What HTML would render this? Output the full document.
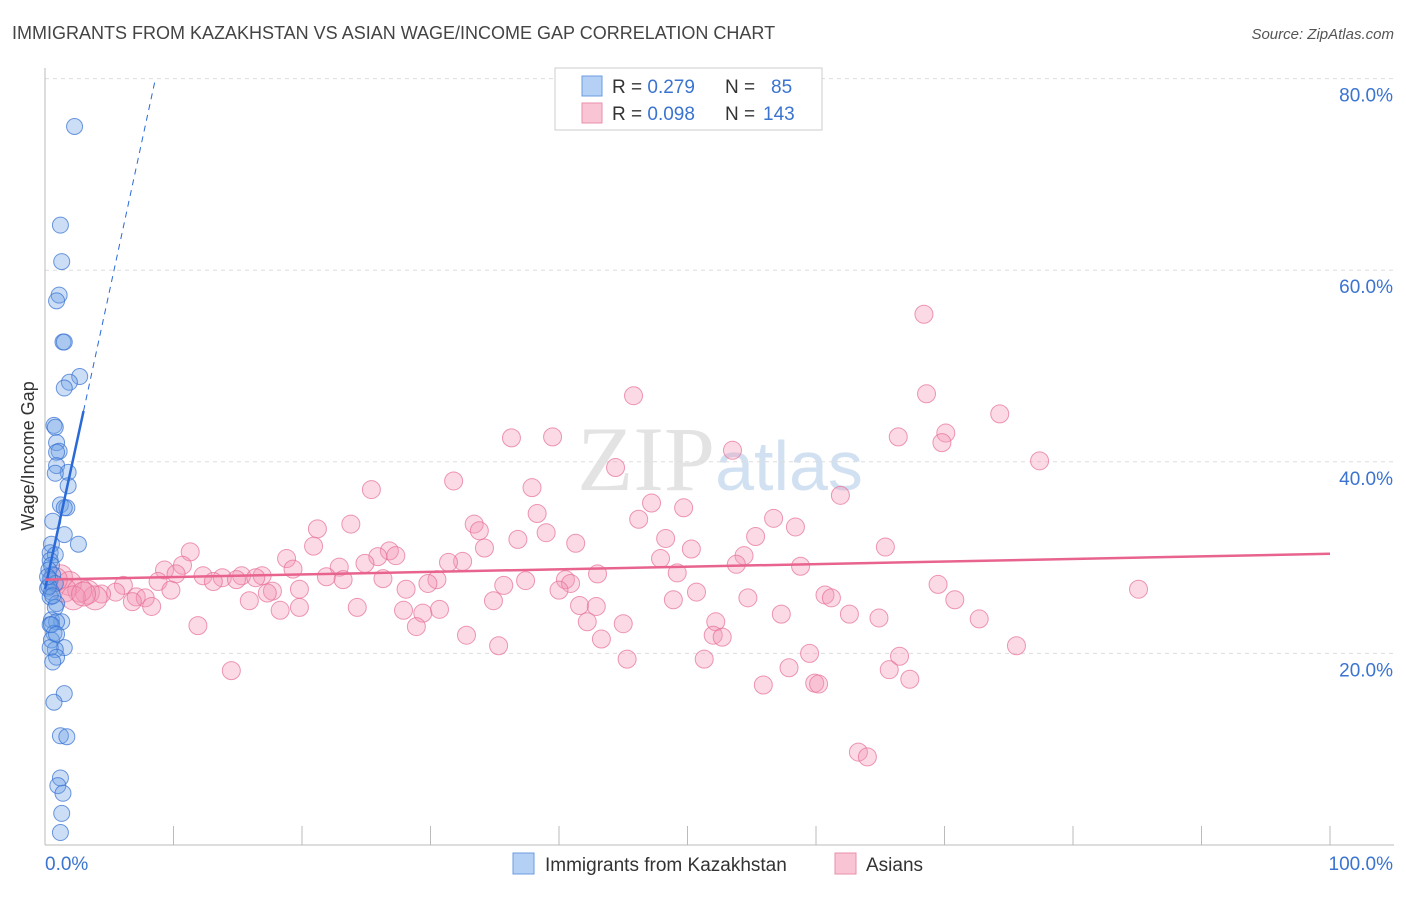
<!DOCTYPE html>
<html><head><meta charset="utf-8"><style>
body{margin:0;background:#fff;font-family:"Liberation Sans",sans-serif}
</style></head><body>
<svg id="chart" width="1406" height="892" xmlns="http://www.w3.org/2000/svg" font-family="Liberation Sans, sans-serif">
<text x="12" y="39" font-size="18" fill="#444">IMMIGRANTS FROM KAZAKHSTAN VS ASIAN WAGE/INCOME GAP CORRELATION CHART</text>
<text x="1394" y="39" font-size="15" fill="#555" text-anchor="end" font-style="italic">Source: ZipAtlas.com</text>
<text x="720" y="490" font-size="92" text-anchor="middle" fill="#ddd" font-family="Liberation Serif, serif" opacity="0.8">ZIP<tspan fill="#c8daf0" font-family="Liberation Sans, sans-serif" font-size="70">atlas</tspan></text>
<text transform="translate(34,456) rotate(-90)" font-size="18" fill="#333" text-anchor="middle">Wage/Income Gap</text>
<g id="grid"></g><g id="axes"></g><g id="marks"></g>
<g>
<rect x="555" y="68" width="267" height="62" fill="#fff" stroke="#ccc"/>
<rect x="582" y="76" width="20" height="20" fill="#b5d0f5" stroke="#6a9be0"/>
<rect x="582" y="103" width="20" height="20" fill="#f9c4d4" stroke="#ea8fab"/>
<text x="612" y="93" font-size="19" fill="#333">R = <tspan fill="#3a74d0">0.279</tspan><tspan x="725">N = </tspan><tspan x="771" fill="#3a74d0">85</tspan></text>
<text x="612" y="120" font-size="19" fill="#333">R = <tspan fill="#3a74d0">0.098</tspan><tspan x="725">N = </tspan><tspan x="763" fill="#3a74d0">143</tspan></text>
</g>
<g>
<rect x="513" y="853" width="21" height="21" fill="#b5d0f5" stroke="#6a9be0"/>
<text x="545" y="871" font-size="19" fill="#333">Immigrants from Kazakhstan</text>
<rect x="835" y="853" width="21" height="21" fill="#f9c4d4" stroke="#ea8fab"/>
<text x="866" y="871" font-size="19" fill="#333">Asians</text>
</g>
</svg>
<script>
const yTicks=[20,40,60,80];
const xTickLabels=["0.0%","100.0%"];
const blueX=[2.3,1.2,1.3,1.1,0.9,1.4,1.5,2.7,1.9,1.5,0.7,0.8,0.9,1.1,0.9,0.9,1.8,0.8,1.8,1.2,1.7,1.5,0.6,1.5,2.6,0.5,0.4,0.8,0.4,0.5,0.3,0.6,0.4,0.8,0.2,0.5,0.4,0.9,0.8,0.5,1.3,0.9,0.4,0.7,0.5,1.5,0.8,0.4,0.9,0.6,1.5,0.7,1.2,1.7,1.2,1.0,1.4,1.3,1.2,0.3,0.6,0.2,0.5,0.9];
const blueY=[75.0,64.7,60.9,57.4,56.8,52.5,52.5,48.9,48.3,47.7,43.8,43.6,42.0,41.1,41.0,39.6,38.9,38.8,37.5,35.5,35.2,35.2,33.8,32.4,31.4,31.4,30.5,30.3,29.7,29.2,28.7,28.2,27.7,27.3,26.8,26.4,25.9,25.2,24.8,23.5,23.3,23.3,23.0,22.1,21.4,20.6,20.4,20.6,19.6,19.1,15.8,14.9,11.4,11.3,7.0,6.2,5.4,3.3,1.3,27.0,26.0,28.0,23.0,22.0];
const pinkX=[68.4,45.8,68.6,74.3,36.3,39.5,53.5,66.4,70.1,69.8,77.4,44.4,31.8,37.9,25.4,61.9,47.2,49.7,38.3,46.2,56.7,33.4,23.8,21.2,33.8,58.4,39,36.8,41.3,55.3,48.3,20.9,34.2,50.3,65.4,11.3,26.8,27.3,25.9,54.4,47.9,18.8,32.5,31.4,24.9,10.7,22.9,9.3,19.3,53.8,58.8,10.2,43.0,49.2,12.3,15.3,16.9,13.8,16.4,21.9,26.3,30.5,23.2,13.1,14.9,8.8,40.5,40.9,37.4,29.8,69.5,85.1,35.7,28.1,6.1,9.8,17.7,17.3,19.8,40.0,50.7,5.5,4.4,3.3,3.9,7.1,7.8,60.7,61.2,54.7,70.8,48.9,34.9,15.9,6.8,8.3,41.6,42.9,24.3,19.8,30.7,27.9,29.4,18.3,57.3,62.6,64.9,72.7,42.2,52.2,45.0,11.9,28.9,52,52.7,32.8,43.3,35.3,75.6,59.5,66.5,45.3,51.3,57.9,65.7,14.5,67.3,59.9,60.2,55.9,63.3,64,1.2,1.9,2.7,1.5,0.8,2.2,3.0];
const pinkY=[55.4,46.9,47.1,45.0,42.5,42.6,41.2,42.6,43.0,42.0,40.1,39.4,38.0,37.3,37.1,36.5,35.7,35.2,34.6,34.0,34.1,33.5,33.5,33.0,32.8,33.2,32.6,31.9,31.5,32.2,32.0,31.2,31.0,30.9,31.1,30.6,30.7,30.2,30.1,30.2,29.9,29.9,29.6,29.5,29.4,29.2,29.0,28.7,28.8,29.3,29.1,28.3,28.3,28.4,28.1,28.1,28.1,27.9,27.9,28.0,27.8,27.7,27.7,27.5,27.7,27.5,27.7,27.3,27.6,27.3,27.2,26.7,27.1,26.7,27.1,26.6,26.5,26.3,26.7,26.6,26.4,26.4,26.2,26.4,25.8,25.9,25.8,26.1,25.8,25.8,25.6,25.6,25.5,25.5,25.4,24.9,25.0,24.9,24.8,24.8,24.6,24.5,24.2,24.5,24.1,24.1,23.7,23.6,23.3,23.3,23.1,22.9,22.8,21.9,21.7,21.9,21.5,20.8,20.8,20.0,19.7,19.4,19.4,18.5,18.3,18.2,17.3,16.9,16.8,16.7,9.7,9.2,28.0,27.3,26.6,26.6,27.7,25.8,26.2];
const blueTrend=[26.7,6.2]; // intercept, slope
const pinkTrend=[27.7,0.027];
const NS="http://www.w3.org/2000/svg";
const X=v=>45+v*12.85, Y=v=>845-v*9.58;
function mk(tag,attrs,parent){const e=document.createElementNS(NS,tag);for(const k in attrs)e.setAttribute(k,attrs[k]);parent.appendChild(e);return e;}
const grid=document.getElementById('grid'),axes=document.getElementById('axes'),marks=document.getElementById('marks');
yTicks.forEach(t=>{
 const l=mk('line',{x1:45,x2:1394,y1:Y(t),y2:Y(t),stroke:'#ddd','stroke-dasharray':'4,4'},grid);
 
 
 const tx=mk('text',{x:1393,y:Y(t)+23,'font-size':19,fill:'#3a74d0','text-anchor':'end'},axes);
 tx.textContent=t.toFixed(1)+'%';
 
 
});
const ax=mk('line',{x1:45,x2:45,y1:68,y2:845,stroke:'#bbb'},axes);


const bx=mk('line',{x1:45,x2:1394,y1:845,y2:845,stroke:'#bbb'},axes);


for(let i=0;i<=10;i++){const t=mk('line',{x1:X(i*10),x2:X(i*10),y1:826,y2:845,stroke:'#bbb'},axes);
 
 }
xTickLabels.forEach((s,i)=>{const t=mk('text',{x:i?1393:45,y:870,'font-size':19,fill:'#3a74d0','text-anchor':i?'end':'start'},axes);t.textContent=s;
 
 });
pinkX.forEach((x,i)=>{const c=mk('circle',{cx:X(x),cy:Y(pinkY[i]),r:x<4?12:9,fill:'rgba(244,150,180,0.35)',stroke:'rgba(230,110,150,0.7)','stroke-width':1},marks);
 
 });
blueX.forEach((x,i)=>{const c=mk('circle',{cx:X(x),cy:Y(blueY[i]),r:8,fill:'rgba(110,160,230,0.35)',stroke:'rgba(50,110,210,0.7)','stroke-width':1},marks);
 
 });
const bt1=mk('line',{x1:X(0),y1:Y(blueTrend[0]),x2:X(3),y2:Y(blueTrend[0]+3*blueTrend[1]),stroke:'#2a6ad8','stroke-width':2.5},marks);


const xe=(80-blueTrend[0])/blueTrend[1];
const bt2=mk('line',{x1:X(3),y1:Y(blueTrend[0]+3*blueTrend[1]),x2:X(xe),y2:Y(80),stroke:'#2a6ad8','stroke-width':1,'stroke-dasharray':'6,5'},marks);


const pt=mk('line',{x1:X(0),y1:Y(pinkTrend[0]),x2:X(100),y2:Y(pinkTrend[0]+100*pinkTrend[1]),stroke:'#e8648f','stroke-width':2.5},marks);


</script>
</body></html>
